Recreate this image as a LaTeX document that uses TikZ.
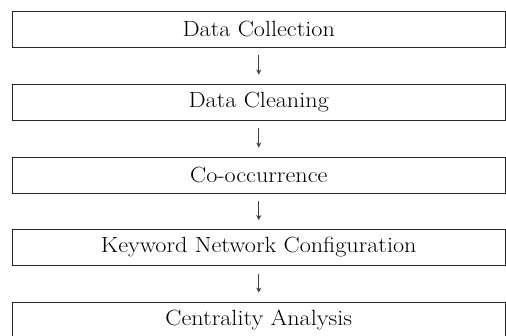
\documentclass[tikz,border=0pt]{standalone}
\usetikzlibrary{arrows.meta}
\newcommand\widetext[1]{\scalebox{1.1}[1]{#1}}
\begin{document}
\begin{tikzpicture}[x=1pt,y=-1pt,
  stage/.style={draw=black!85, line width=0.9pt, minimum width=492.5pt, minimum height=36pt,
    inner sep=0pt, font=\fontsize{22}{26}\selectfont},
  flow/.style={draw=black!75, line width=0.8pt, -{Stealth[length=5pt,width=5pt,inset=1.5pt]},
    shorten <=8pt, shorten >=9pt}]
\useasboundingbox (0,0) rectangle (506,335);
\clip (0,0) rectangle (506,335);
\node[stage] (s1) at (258.75,29) {\widetext{Data Collection}};
\node[stage] (s2) at (258.75,102) {\widetext{Data Cleaning}};
\node[stage] (s3) at (258.75,175) {\widetext{Co-occurrence}};
\node[stage] (s4) at (258.75,247.5) {\widetext{Keyword Network Configuration}};
\node[stage] (s5) at (258.75,320) {\widetext{Centrality Analysis}};
\draw[flow] (s1) -- (s2);
\draw[flow] (s2) -- (s3);
\draw[flow] (s3) -- (s4);
\draw[flow] (s4) -- (s5);
\end{tikzpicture}
\end{document}
